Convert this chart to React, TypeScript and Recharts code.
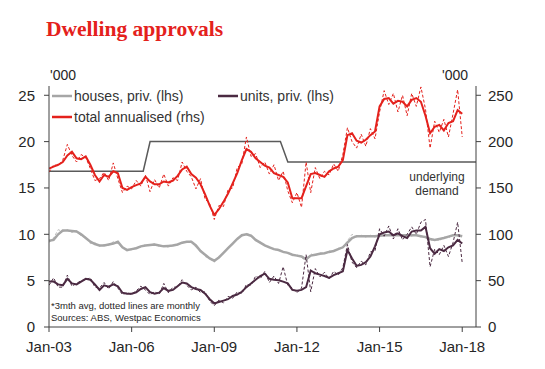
import { LineChart, Line, XAxis, YAxis } from "recharts";

// bi-monthly readings, Jan-03 .. Jan-18
const houses3m = [
  9.3, 9.4, 10.0, 10.4, 10.4, 10.35, 10.3, 10.0, 9.6, 9.2, 8.95, 8.8, 8.8, 8.9, 9.0, 9.2,
  8.6, 8.3, 8.4, 8.5, 8.7, 8.8, 8.85, 8.9, 8.8, 8.7, 8.75, 8.8, 8.9, 9.1, 9.2, 9.2,
  8.8, 8.2, 7.8, 7.4, 7.15, 7.5, 8.0, 8.5, 9.0, 9.5, 9.9, 10.0, 9.85, 9.4, 9.1, 8.8,
  8.6, 8.4, 8.3, 8.1, 8.0, 7.8, 7.7, 7.6, 7.3, 7.7, 7.8, 7.9, 7.95, 8.1, 8.2, 8.4,
  8.6, 9.1, 9.6, 9.8, 9.8, 9.8, 9.8, 9.8, 9.85, 9.9, 9.9, 9.9, 9.9, 9.9, 9.9, 9.9,
  9.9, 9.8, 9.7, 9.5, 9.4, 9.5, 9.6, 9.75, 9.9, 9.9, 9.8,
];
const housesMonthly = [
  9.1, 9.6, 10.5, 10.3, 10.5, 10.2, 10.4, 9.8, 9.7, 9.0, 9.1, 8.7, 8.9, 8.8, 9.2, 9.0,
  8.5, 8.4, 8.3, 8.6, 8.6, 8.9, 8.8, 9.0, 8.7, 8.8, 8.6, 8.9, 8.8, 9.2, 9.1, 9.3,
  8.6, 8.3, 7.6, 7.4, 7.0, 7.6, 7.9, 8.6, 8.9, 9.6, 9.8, 10.1, 9.9, 9.3, 9.2, 8.7,
  8.7, 8.3, 8.4, 8.0, 8.1, 7.7, 7.8, 7.5, 7.1, 7.9, 7.7, 8.0, 7.9, 8.2, 8.1, 8.5,
  8.5, 9.3, 10.0, 9.7, 9.9, 9.7, 9.9, 9.7, 9.9, 9.8, 10.0, 9.8, 10.0, 9.8, 10.0, 9.8,
  10.1, 9.7, 9.8, 9.3, 9.5, 9.3, 9.7, 9.6, 10.0, 9.8, 10.0,
];
const units3m = [
  4.9, 4.9, 4.6, 4.5, 5.2, 4.7, 4.6, 4.9, 5.2, 5.1, 4.6, 4.0, 4.5, 4.35, 4.6, 4.4,
  3.7, 3.6, 3.6, 3.75, 4.1, 4.3, 3.75, 3.6, 3.7, 4.2, 3.9, 4.0, 4.4, 4.8, 4.7, 4.3,
  4.1, 4.0, 3.6, 3.0, 2.55, 2.7, 2.85, 3.0, 3.35, 3.5, 3.8, 4.3, 4.7, 5.1, 5.5, 5.75,
  5.2, 5.1, 5.05, 4.9, 4.7, 4.0, 3.9, 4.0, 4.3, 6.1, 5.8, 5.65, 5.5, 5.3, 5.6, 5.8,
  6.0, 8.3, 7.4, 6.6, 6.7, 7.0, 7.6, 8.7, 10.0, 10.2, 10.3, 9.9, 10.1, 9.8, 9.6, 10.3,
  10.4, 10.4, 10.8, 8.5, 7.9, 8.4, 8.2, 8.6, 8.8, 9.4, 9.0,
];
const unitsMonthly = [
  4.5, 5.3, 4.3, 4.3, 5.6, 4.4, 4.7, 5.0, 5.1, 5.3, 4.3, 4.2, 4.8, 4.1, 4.9, 4.2,
  3.5, 3.7, 3.5, 3.9, 4.4, 4.0, 3.5, 3.8, 3.5, 4.7, 3.7, 4.3, 4.3, 5.1, 4.5, 4.0,
  4.3, 3.7, 3.8, 2.8, 2.3, 2.9, 2.6, 3.3, 3.1, 3.8, 3.6, 4.6, 4.5, 5.5, 5.2, 6.0,
  4.8, 5.5, 4.7, 6.5, 4.5, 4.2, 3.7, 4.2, 7.8, 3.8, 6.3, 5.4, 5.9, 5.2, 6.0, 5.6,
  6.4, 8.9, 7.0, 6.4, 7.1, 6.7, 8.1, 8.2, 10.6, 9.8, 10.9, 9.5, 10.6, 9.4, 10.0, 10.8,
  10.0, 11.3, 11.6, 6.5, 8.4, 7.8, 8.8, 7.6, 9.1, 11.3, 6.9,
];
// total annualised, '000 (rhs)
const total3m = [
  171, 173, 175, 178, 185, 189, 182, 181, 184, 175, 164, 157, 164, 162, 168, 166,
  150, 148, 151, 153, 155, 162, 157, 154, 154, 157, 156, 158, 163, 170, 173, 165,
  161, 154, 143, 131, 121, 127, 135, 144, 155, 166, 180, 192, 189, 182, 178, 174,
  172, 166, 164, 162, 156, 139, 139, 139, 152, 165, 166, 164, 162, 168, 171, 173,
  180, 207, 209, 201, 199, 202, 207, 211, 238, 246, 247, 241, 244, 243, 238, 245,
  247, 243, 228, 209, 216, 218, 212, 220, 222, 234, 230,
];
const totalMonthly = [
  167, 175, 174, 180, 197, 185, 178, 186, 183, 171, 158, 160, 167, 158, 177, 160,
  145, 152, 149, 158, 152, 164, 146, 159, 150, 165, 152, 161, 158, 178, 168, 162,
  149, 160, 138, 133, 116, 131, 130, 148, 150, 172, 176, 205, 184, 187, 172, 178,
  165, 175, 158, 168, 147, 134, 145, 129, 178, 145, 172, 160, 168, 164, 176, 168,
  186, 215, 200, 193, 208, 195, 214, 203, 232, 255, 240, 252, 232, 250, 228, 252,
  238, 259, 235, 193, 222, 210, 224, 205, 230, 256, 205,
];
// underlying demand step line (rhs)
const demandDates = [2003, 2006.42, 2006.67, 2011.4, 2011.67, 2018.5];
const demandLevel = [168, 168, 200, 200, 178, 178];

const yearTicks = [2003, 2006, 2009, 2012, 2015, 2018];
const lhsTicks = [0, 5, 10, 15, 20, 25];
const rhsTicks = [0, 50, 100, 150, 200, 250];

const data = houses3m.map((_, i) => ({
  t: 2003 + (i * 2) / 12,
  h3: houses3m[i],
  hm: housesMonthly[i],
  u3: units3m[i],
  um: unitsMonthly[i],
  tot3: total3m[i],
  totm: totalMonthly[i],
}));
const demandData = demandDates.map((t, i) => ({ t, v: demandLevel[i] }));

const RED = "#e4211c";
const GREY = "#a6a6a6";
const PURPLE = "#4b2a42";
const font = "'Liberation Sans', Arial, sans-serif";
const tickStyle = { fontSize: 15, fill: "#262626", fontFamily: font };

function Swatch({ color }: { color: string }) {
  return (
    <svg width={20} height={4} style={{ marginRight: 2 }}>
      <line x1={0} y1={2} x2={20} y2={2} stroke={color} strokeWidth={2.5} />
    </svg>
  );
}

export default function App() {
  return (
    <div style={{ position: "absolute", left: 0, top: 0, width: 545, height: 369, background: "#fff" }}>
      <div
        style={{
          position: "absolute",
          left: 46,
          top: 17,
          fontFamily: "'Liberation Serif', 'Times New Roman', serif",
          fontWeight: "bold",
          fontSize: 21.5,
          color: RED,
        }}
      >
        Dwelling approvals
      </div>
      <div style={{ position: "absolute", left: 50, top: 67, fontFamily: font, fontSize: 14, color: "#262626" }}>'000</div>
      <div style={{ position: "absolute", left: 442, top: 67, fontFamily: font, fontSize: 14, color: "#262626" }}>'000</div>

      <LineChart width={545} height={369} data={data} margin={{ top: 86, right: 0, bottom: 0, left: 0 }}>
        <XAxis
          xAxisId="b"
          dataKey="t"
          type="number"
          domain={[2003, 2018.5]}
          ticks={yearTicks}
          tickFormatter={(v) => `Jan-${String(v % 100).padStart(2, "0")}`}
          height={42}
          tickSize={5}
          tickMargin={9}
          stroke="#404040"
          tick={tickStyle}
          allowDataOverflow
        />
        <XAxis xAxisId="top" orientation="top" type="number" domain={[2003, 2018.5]} height={0} tick={false} tickLine={false} stroke="#404040" />
        <YAxis
          yAxisId="l"
          domain={[0, 26]}
          ticks={lhsTicks}
          width={49}
          tickSize={5}
          tickMargin={9}
          stroke="#404040"
          tick={tickStyle}
          allowDataOverflow
        />
        <YAxis
          yAxisId="r"
          orientation="right"
          domain={[0, 260]}
          ticks={rhsTicks}
          width={69}
          tickSize={5}
          tickMargin={7}
          stroke="#404040"
          tick={{ ...tickStyle, textAnchor: "start" }}
          allowDataOverflow
        />
        <Line xAxisId="b" yAxisId="r" data={demandData} dataKey="v" stroke="#5a5a5a" strokeWidth={1.5} dot={false} isAnimationActive={false} />
        <Line xAxisId="b" yAxisId="l" dataKey="hm" stroke="#bdbdbd" strokeWidth={1} strokeDasharray="3 2" dot={false} isAnimationActive={false} />
        <Line xAxisId="b" yAxisId="l" dataKey="h3" stroke={GREY} strokeWidth={2.5} dot={false} isAnimationActive={false} />
        <Line xAxisId="b" yAxisId="l" dataKey="um" stroke={PURPLE} strokeWidth={1} strokeDasharray="3 2" dot={false} isAnimationActive={false} />
        <Line xAxisId="b" yAxisId="l" dataKey="u3" stroke={PURPLE} strokeWidth={2} dot={false} isAnimationActive={false} />
        <Line xAxisId="b" yAxisId="r" dataKey="totm" stroke={RED} strokeWidth={1} strokeDasharray="3 2" dot={false} isAnimationActive={false} />
        <Line xAxisId="b" yAxisId="r" dataKey="tot3" stroke={RED} strokeWidth={2} dot={false} isAnimationActive={false} />
      </LineChart>

      <div style={{ position: "absolute", left: 52, top: 88, fontFamily: font, fontSize: 14, color: "#333", display: "flex", alignItems: "center" }}>
        <Swatch color={GREY} />
        houses, priv. (lhs)
      </div>
      <div style={{ position: "absolute", left: 218, top: 88, fontFamily: font, fontSize: 14, color: "#333", display: "flex", alignItems: "center" }}>
        <Swatch color={PURPLE} />
        units, priv. (lhs)
      </div>
      <div style={{ position: "absolute", left: 52, top: 109, fontFamily: font, fontSize: 14, color: "#333", display: "flex", alignItems: "center" }}>
        <Swatch color={RED} />
        total annualised (rhs)
      </div>
      <div style={{ position: "absolute", left: 401, top: 170, width: 72, textAlign: "center", fontFamily: font, fontSize: 12, lineHeight: "14px", color: "#333" }}>
        underlying
        <br />
        demand
      </div>
      <div style={{ position: "absolute", left: 51, top: 300, fontFamily: font, fontSize: 9.5, lineHeight: "12px", color: "#262626" }}>
        *3mth avg, dotted lines are monthly
        <br />
        Sources: ABS, Westpac Economics
      </div>
    </div>
  );
}
